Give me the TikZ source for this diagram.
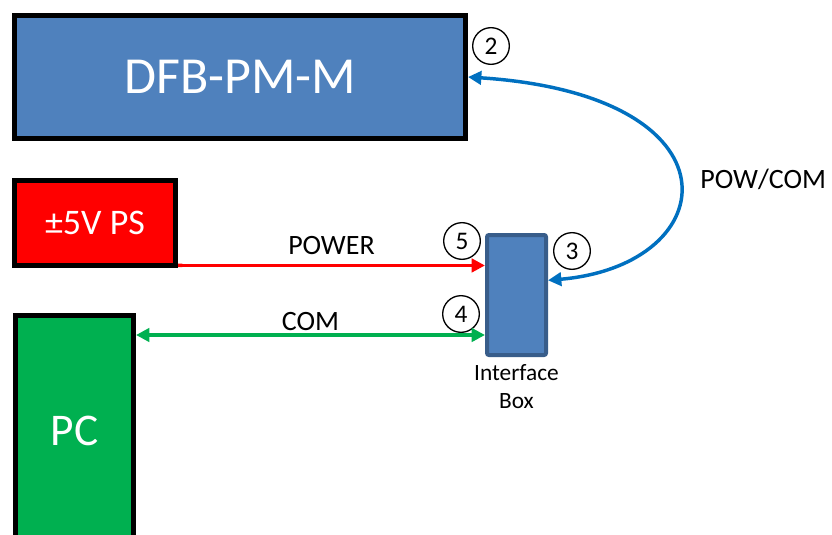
\documentclass[tikz,border=0pt]{standalone}
\usepackage{fontspec}
\setmainfont{Carlito}
\usetikzlibrary{positioning}
\usetikzlibrary{arrows.meta}

\definecolor{caixaazul}{HTML}{4F81BD}
\definecolor{bordaazul}{HTML}{385D8A}
\definecolor{linhaazul}{HTML}{0070C0}
\definecolor{verdepc}{HTML}{00B050}

\tikzset{
    bloco/.style={rectangle, draw=black, line width=3.75pt, text=white, inner sep=0pt},
    numcirc/.style={circle, draw=black, line width=1pt, minimum size=27.5pt, inner sep=0pt, font=\fontsize{19}{21}\selectfont},
    seta/.style={line width=2.6pt, {Triangle[length=10pt, width=10pt]}-{Triangle[length=10pt, width=10pt]}},
    rotulo/.style={text=black, font=\fontsize{21}{24}\selectfont}
}

\begin{document}
\begin{tikzpicture}[x=0.75pt, y=-0.75pt]

        \clip (0,0) rectangle (832,535);

        % Definindo blocos
        \node[bloco, fill=caixaazul, minimum width=337.9pt, minimum height=92.25pt,
              font=\fontsize{39}{44}\selectfont] (dfb) at (240.25,77) {DFB-PM-M};
        \node[bloco, fill=red, minimum width=120.75pt, minimum height=63.75pt,
              font=\fontsize{27}{30}\selectfont] (ps) at (95,223) {±5V PS};
        \node[bloco, fill=verdepc, minimum width=88.5pt, minimum height=240pt,
              font=\fontsize{34}{38}\selectfont] (pc) at (74.5,475.5) {};
        \node[text=white, font=\fontsize{34}{38}\selectfont] (pctxt) at (74.5,431) {PC};
        \node[rectangle, rounded corners=1.5pt, draw=bordaazul, line width=3pt, fill=caixaazul,
              minimum width=44.25pt, minimum height=90pt] (iface) at (516.5,295) {};
        \node[below=2pt of iface, align=center, font=\fontsize{17.5}{21}\selectfont] (ifacetxt) {Interface\\Box};

        % Definindo numeros
        \foreach \pos/\name/\num in {{(491,46)/n2/2}, {(572,251)/n3/3}, {(461,314)/n4/4}, {(462,241)/n5/5}}
            \node[numcirc] (\name) at \pos {\num};

        % Definindo conexoes
        \coordinate (pwr) at ([yshift=1.9pt]ps.south east);
        \coordinate (com) at ([yshift=-16.5pt]pc.north east);
        \coordinate (ifin) at ([yshift=11pt]iface.east);
        \draw[seta, red, {Butt Cap}-{Triangle[length=10pt, width=10pt]}] (pwr) -- (pwr -| iface.west)
            node[midway, above=3.5pt, rotulo] (lblpower) {POWER};
        \draw[seta, verdepc] (com) -- (com -| iface.west)
            node[midway, above=-1.5pt, rotulo] (lblcom) {COM};
        \draw[seta, linhaazul] (dfb.east) .. controls (745,95) and (725,265) .. (ifin)
            node[pos=0.5, right=12pt, rotulo] (lblpowcom) {POW/COM};

\end{tikzpicture}
\end{document}
